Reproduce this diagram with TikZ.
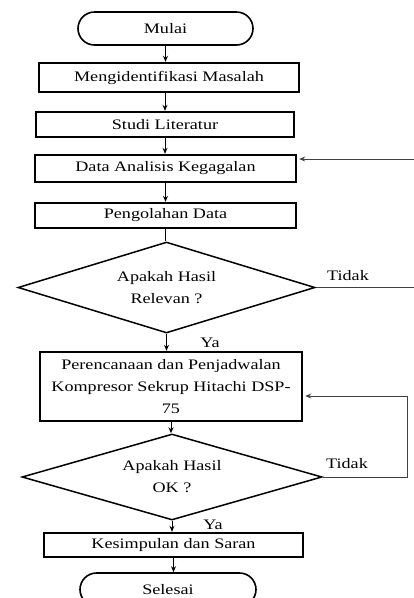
\documentclass[tikz,border=0pt]{standalone}
\usepackage{fontspec}
\setmainfont[FakeStretch=1.25]{Liberation Serif}
\usepackage{tikz}
\usetikzlibrary{calc}
\usetikzlibrary{arrows.meta,shapes}
\usetikzlibrary{positioning}

\begin{document}
\begin{tikzpicture}[x=1pt,y=-1pt,font=\fontsize{14.5}{22}\selectfont,
    proses/.style={draw,line width=2.4pt,rectangle,inner sep=0pt,align=center},
    ujung/.style={draw,line width=1.6pt,rounded rectangle,minimum width=175pt,minimum height=33pt,inner sep=0pt},
    keputusan/.style={draw,line width=1.5pt,diamond,aspect=3.3,inner sep=0pt,align=center},
    panah/.style={-{Stealth[length=6pt,width=5pt]},line width=1pt},
    garis/.style={line width=1pt},
    balik/.style={-{Stealth[length=6pt,width=5pt]},line width=1pt,black!75,shorten >=2pt}]
  \useasboundingbox (0,0) rectangle (414,598);
  \node[ujung] (mulai) at (165.5,28.5) {Mulai};
  \node[proses,minimum width=260pt,minimum height=29pt] (identifikasi) at (169,77.5) {Mengidentifikasi Masalah};
  \node[proses,minimum width=258pt,minimum height=25pt] (studi) at (165,124.5) {Studi Literatur};
  \node[proses,minimum width=261pt,minimum height=27pt] (analisis) at (165.5,168.5) {Data Analisis Kegagalan};
  \node[proses,minimum width=261pt,minimum height=25pt] (olah) at (165.5,215.5) {Pengolahan Data};
  \node[keputusan,minimum width=297pt,minimum height=91pt] (relevan) at (166.5,287.5) {Apakah Hasil\\Relevan ?};
  \node[proses,minimum width=262pt,minimum height=69pt] (rencana) at (171,386.5) {Perencanaan dan Penjadwalan\\Kompresor Sekrup Hitachi DSP-\\75};
  \node[keputusan,minimum width=300pt,minimum height=86pt] (ok) at (172,477) {Apakah Hasil\\OK ?};
  \node[proses,minimum width=259pt,minimum height=24pt] (simpulan) at (173.5,545) {Kesimpulan dan Saran};
  \node[ujung,minimum width=176pt] (selesai) at (168,589.5) {Selesai};
  \node (ya1) at (210,343) {Ya};
  \node (ya2) at (213,525) {Ya};
  \node (tidak1) at (348,276) {Tidak};
  \node (tidak2) at (347,464) {Tidak};
  \coordinate (balik1) at (418,159);
  \coordinate (balik2) at (407,396);
  \draw[panah] (mulai.south) -- (mulai.south |- identifikasi.north);
  \draw[panah] (studi.north |- identifikasi.south) -- (studi.north);
  \draw[panah] (studi.south) -- (studi.south |- analisis.north);
  \draw[panah] (analisis.south) -- (analisis.south |- olah.north);
  \draw[garis] (olah.south) -- (olah.south |- relevan.north);
  \draw[panah] (relevan.south) -- (relevan.south |- rencana.north);
  \draw[panah] (rencana.south) -- (rencana.south |- ok.north);
  \draw[panah] (ok.south) -- (ok.south |- simpulan.north);
  \draw[panah] (simpulan.south) -- (simpulan.south |- selesai.north);
  \draw[balik] (relevan.east) -- (relevan.east -| balik1) -- (balik1) -- (balik1 -| analisis.east);
  \draw[balik] (ok.east) -- (ok.east -| balik2) -- (balik2) -- (balik2 -| rencana.east);
\end{tikzpicture}
\end{document}
